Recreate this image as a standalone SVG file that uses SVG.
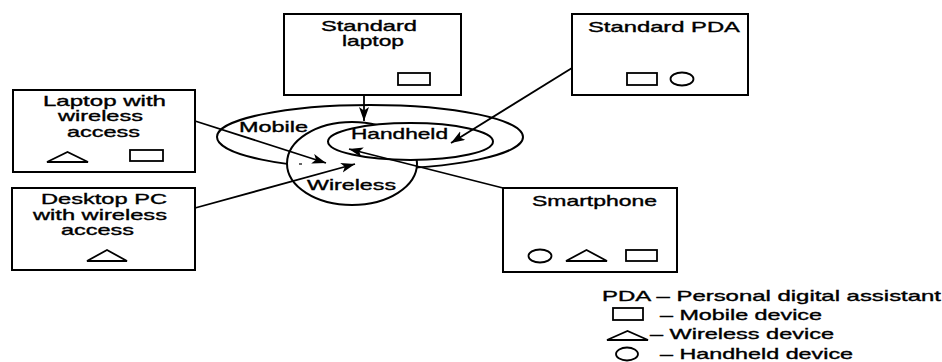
<svg xmlns="http://www.w3.org/2000/svg" width="942" height="362" viewBox="0 0 942 362">
<defs>
<style>
.box{fill:#fff;stroke:#000;stroke-width:2}
.ico{fill:none;stroke:#000;stroke-width:1.8}
.set{fill:#fff;stroke:#000;stroke-width:2}
.con{fill:none;stroke:#000;stroke-width:1.8}
text{font-family:"Liberation Sans",Arial,Helvetica,sans-serif;font-size:14.5px;fill:#000;stroke:#000;stroke-width:0.35}
</style>
<marker id="ah" markerUnits="userSpaceOnUse" markerWidth="15" markerHeight="11" refX="14" refY="5" orient="auto">
<path d="M0,0 L14,5 L0,10 L3.5,5 z" fill="#000"/>
</marker>
</defs>
<rect width="942" height="362" fill="#fff"/>

<g id="sets">
<ellipse id="mobile" class="set" cx="370" cy="137" rx="153" ry="32"/>
<ellipse id="wireless" class="set" cx="352" cy="163.5" rx="65" ry="41.5"/>
<ellipse id="handheld" class="set" cx="410.5" cy="141.5" rx="82.5" ry="18.5"/>
<text x="239" y="132" textLength="69" lengthAdjust="spacingAndGlyphs">Mobile</text>
<text x="351" y="139" textLength="97" lengthAdjust="spacingAndGlyphs">Handheld</text>
<text x="307" y="190" textLength="89" lengthAdjust="spacingAndGlyphs">Wireless</text>
<line x1="299" y1="164" x2="302" y2="164" stroke="#000" stroke-width="1.2"/>
</g>

<g id="standard-laptop">
<rect class="box" x="284" y="14" width="177" height="81"/>
<text x="321" y="31" textLength="96" lengthAdjust="spacingAndGlyphs">Standard</text>
<text x="342" y="46" textLength="62" lengthAdjust="spacingAndGlyphs">laptop</text>
<rect class="ico" x="398" y="73" width="32" height="12"/>
</g>

<g id="laptop-wireless">
<rect class="box" x="13" y="90" width="182" height="82"/>
<text x="43" y="106" textLength="123" lengthAdjust="spacingAndGlyphs">Laptop with</text>
<text x="58" y="121" textLength="85" lengthAdjust="spacingAndGlyphs">wireless</text>
<text x="67" y="137" textLength="73" lengthAdjust="spacingAndGlyphs">access</text>
<polygon class="ico" points="47,162 67.5,152 88,162"/>
<rect class="ico" x="130" y="150" width="33" height="11"/>
</g>

<g id="desktop-pc">
<rect class="box" x="12" y="188" width="183" height="82"/>
<text x="41" y="204" textLength="126" lengthAdjust="spacingAndGlyphs">Desktop PC</text>
<text x="33" y="220" textLength="134" lengthAdjust="spacingAndGlyphs">with wireless</text>
<text x="61" y="235" textLength="73" lengthAdjust="spacingAndGlyphs">access</text>
<polygon class="ico" points="87,261 107,250 127,261"/>
</g>

<g id="standard-pda">
<rect class="box" x="572" y="14" width="176" height="81"/>
<text x="588" y="32" textLength="152" lengthAdjust="spacingAndGlyphs">Standard PDA</text>
<rect class="ico" x="627" y="73" width="30" height="12"/>
<ellipse class="ico" cx="682" cy="79" rx="11.5" ry="6.5"/>
</g>

<g id="smartphone">
<rect class="box" x="503" y="188" width="174" height="84"/>
<text x="532" y="206" textLength="125" lengthAdjust="spacingAndGlyphs">Smartphone</text>
<ellipse class="ico" cx="540" cy="256" rx="11.5" ry="6.5"/>
<polygon class="ico" points="566,261 586.5,250 607,261"/>
<rect class="ico" x="626" y="250" width="31" height="11"/>
</g>

<g id="connectors">
<line class="con" x1="364" y1="95" x2="364" y2="121" marker-end="url(#ah)"/>
<line class="con" x1="195" y1="121" x2="326" y2="163" marker-end="url(#ah)"/>
<line class="con" x1="195" y1="208" x2="355" y2="164" marker-end="url(#ah)"/>
<line class="con" x1="572" y1="68" x2="451" y2="143" marker-end="url(#ah)"/>
<line class="con" x1="503" y1="188" x2="349" y2="149" marker-end="url(#ah)"/>
</g>

<g id="legend">
<text x="602" y="301" textLength="339" lengthAdjust="spacingAndGlyphs">PDA – Personal digital assistant</text>
<rect class="ico" x="613" y="308" width="30" height="12"/>
<text x="660" y="320" textLength="162" lengthAdjust="spacingAndGlyphs">– Mobile device</text>
<polygon class="ico" points="607,340 627.5,331 648,340"/>
<text x="650" y="339" textLength="184" lengthAdjust="spacingAndGlyphs">– Wireless device</text>
<ellipse class="ico" cx="627" cy="354" rx="11" ry="6.5"/>
<text x="660" y="359" textLength="193" lengthAdjust="spacingAndGlyphs">– Handheld device</text>
</g>
</svg>
